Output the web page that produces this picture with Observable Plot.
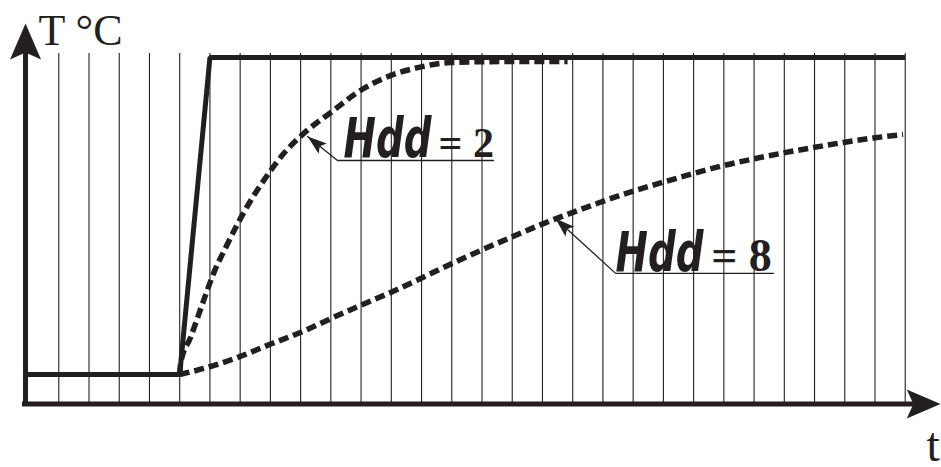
<!DOCTYPE html>
<html>
<head>
<meta charset="utf-8">
<script src="https://cdn.jsdelivr.net/npm/d3@7"></script>
<script src="https://cdn.jsdelivr.net/npm/@observablehq/plot@0.6"></script>
<style>
  html, body { margin: 0; padding: 0; background: #fff; }
  #chart svg { display: block; }
</style>
</head>
<body>
<div id="chart"></div>
<script>
// ---- Data (time in grid units, temperature normalised 0..1) ----
const stepTime = [-5.1, 0, 1, 24];
const stepTemp = [0, 0, 1, 1];

const hdd2Time = [0, 0.03, 0.36, 0.79, 1.12, 1.52, 1.92, 2.35, 2.78, 3.44, 4.10, 5.09, 5.88, 6.74, 7.87, 8.96, 10.6, 12.83];
const hdd2Temp = [0, 0.035, 0.117, 0.233, 0.319, 0.40, 0.476, 0.549, 0.612, 0.697, 0.760, 0.833, 0.890, 0.934, 0.968, 0.984, 0.987, 0.987];

const hdd8Time = [0, 0.79, 1.92, 3.01, 4.10, 4.99, 5.98, 6.98, 7.97, 8.96, 9.95, 10.94, 11.93, 13.59, 14.98, 15.97, 16.96, 17.98, 18.98, 19.97, 20.96, 21.95, 22.94, 23.93];
const hdd8Temp = [0, 0.019, 0.054, 0.096, 0.137, 0.176, 0.218, 0.259, 0.303, 0.348, 0.391, 0.432, 0.472, 0.532, 0.578, 0.606, 0.633, 0.659, 0.680, 0.699, 0.716, 0.732, 0.746, 0.757];

const gridTimes = [-4, -3, -2, -1, 0, 1, 2, 3, 4, 5, 6, 7, 8, 9, 10, 11, 12, 13, 14, 15, 16, 17, 18, 19, 20, 21, 22, 23, 24];

// annotations: label name, value, arrow tip on curve, leader knee, underline end
const annName = ["Hdd", "Hdd"];
const annValue = ["= 2", "= 8"];
const annTipTime = [4.23, 12.43];
const annTipTemp = [0.751, 0.492];
const annKneeTime = [5.22, 14.42];
const annKneeTemp = [0.675, 0.319];
const annEndTime = [10.38, 19.64];
const annNameTime = [5.42, 14.42];
const annValueTime = [8.56, 17.58];
const annBaseTemp = [0.685, 0.328];

// axis labels
const yAxisLabel = "T °C";
const xAxisLabel = "t";

// ---- Frame ----
const W = 941, H = 467;
const xDomain = [-5.928, 25.2];
const yDomain = [-0.2934, 1.1798];
const axisTime = -5.1, axisTemp = -0.093;
const gridBottom = -0.095, gridTop = 1.013;
const ink = "#231f20";

const xs = d3.scaleLinear(xDomain, [0, W]);
const ys = d3.scaleLinear(yDomain, [H, 0]);

// ---- Tables ----
const stepRows = stepTime.map((t, i) => ({t, T: stepTemp[i]}));
const hdd2Rows = hdd2Time.map((t, i) => ({t, T: hdd2Temp[i]}));
const hdd8Rows = hdd8Time.map((t, i) => ({t, T: hdd8Temp[i]}));

const leaderRows = annName.flatMap((n, i) => [
  {id: i, t: annTipTime[i], T: annTipTemp[i]},
  {id: i, t: annKneeTime[i], T: annKneeTemp[i]},
  {id: i, t: annEndTime[i], T: annKneeTemp[i]}
]);
const tipRows = annName.map((n, i) => {
  const dx = xs(annTipTime[i]) - xs(annKneeTime[i]);
  const dy = ys(annTipTemp[i]) - ys(annKneeTemp[i]);
  return {t: annTipTime[i], T: annTipTemp[i], angle: Math.atan2(dx, -dy) * 180 / Math.PI};
});
const nameRows = annName.map((n, i) => ({t: annNameTime[i], T: annBaseTemp[i], text: n}));
const valueRows = annValue.map((v, i) => ({t: annValueTime[i], T: annBaseTemp[i], text: v, size: i === 0 ? 42 : 46}));

const yArrowTip = [{t: axisTime, T: 1.107, angle: 0}];
const xArrowTip = [{t: 25.17, T: axisTemp, angle: 90}];

// notched arrowhead symbol, tip at origin pointing up
function arrowSymbol(len, half, notch) {
  return {
    draw(ctx, size) {
      const s = Math.sqrt(size / Math.PI) / 10;
      ctx.moveTo(0, 0);
      ctx.lineTo(-half * s, len * s);
      ctx.lineTo(0, (len - notch) * s);
      ctx.lineTo(half * s, len * s);
      ctx.closePath();
    }
  };
}
const axisHead = arrowSymbol(36, 15.5, 7);
const leaderHead = arrowSymbol(36, 12, 7);

const dashed = {curve: "monotone-x", stroke: ink, strokeWidth: 5.5, strokeDasharray: "10,5", strokeLinecap: "butt"};

const plot = Plot.plot({
  width: W,
  height: H,
  margin: 0,
  x: {domain: xDomain, axis: null},
  y: {domain: yDomain, axis: null},
  style: {background: "#fff", overflow: "visible"},
  marks: [
    Plot.ruleX(gridTimes, {x: d => d, y1: gridBottom, y2: gridTop, stroke: ink, strokeWidth: 1.1}),
    Plot.line(stepRows, {x: "t", y: "T", stroke: ink, strokeWidth: 5, strokeLinejoin: "miter", strokeLinecap: "butt"}),
    Plot.line(hdd2Rows, {x: "t", y: "T", ...dashed}),
    Plot.line(hdd8Rows, {x: "t", y: "T", ...dashed}),
    Plot.line(leaderRows, {x: "t", y: "T", z: "id", stroke: ink, strokeWidth: 1.3}),
    Plot.dot(tipRows, {x: "t", y: "T", symbol: leaderHead, r: 5.4, rotate: "angle", fill: ink, stroke: "none"}),
    Plot.text(nameRows, {x: "t", y: "T", text: "text", textAnchor: "start", lineAnchor: "bottom",
      fontFamily: "'DejaVu Sans Condensed', 'DejaVu Sans', sans-serif", fontWeight: "bold", fontStyle: "oblique",
      fontSize: 56, fill: ink}),
    Plot.text(valueRows, {x: "t", y: "T", text: "text", textAnchor: "start", lineAnchor: "bottom",
      fontFamily: "'Liberation Serif', 'Times New Roman', serif", fontWeight: "bold", fontSize: "size", fill: ink}),
    Plot.ruleX([axisTime], {x: d => d, y1: gridBottom - 0.004, y2: 1.02, stroke: ink, strokeWidth: 5}),
    Plot.ruleY([axisTemp], {y: d => d, x1: -5.2, x2: 24.3, stroke: ink, strokeWidth: 5}),
    Plot.dot(yArrowTip, {x: "t", y: "T", symbol: axisHead, r: 10, rotate: "angle", fill: ink, stroke: "none"}),
    Plot.dot(xArrowTip, {x: "t", y: "T", symbol: axisHead, r: 9.4, rotate: "angle", fill: ink, stroke: "none"}),
    Plot.text([yAxisLabel], {x: -4.67, y: 1.038, text: d => d, textAnchor: "start", lineAnchor: "bottom",
      fontFamily: "'Liberation Serif', 'Times New Roman', serif", fontSize: 44, fill: ink}),
    Plot.text([xAxisLabel], {x: 24.7, y: -0.272, text: d => d, textAnchor: "start", lineAnchor: "bottom",
      fontFamily: "'Liberation Serif', 'Times New Roman', serif", fontSize: 48, fill: ink})
  ]
});

// compress the "Hdd" glyphs to the narrow face of the original
d3.select(plot).selectAll("text")
  .filter(function () { return this.textContent === "Hdd"; })
  .attr("textLength", 88)
  .attr("lengthAdjust", "spacingAndGlyphs");

document.getElementById("chart").appendChild(plot);
</script>
</body>
</html>
